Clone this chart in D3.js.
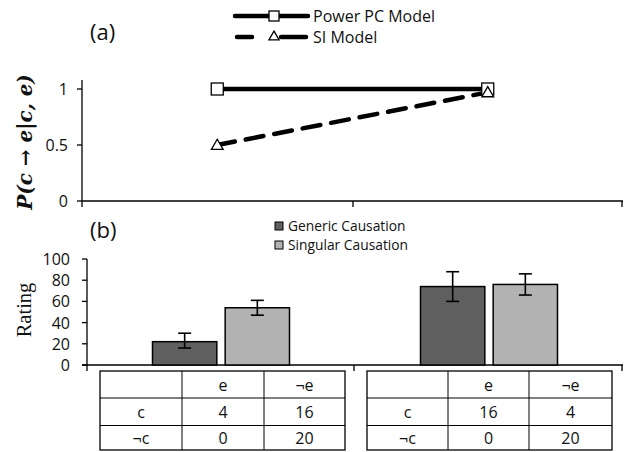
<!DOCTYPE html>
<html lang="en">
<head>
<meta charset="utf-8">
<title>Power PC vs SI model</title>
<script src="https://d3js.org/d3.v7.min.js"></script>
<style>
    body { margin: 0; background: white; }
    text { font-family: "Open Sans", sans-serif; fill: #111; }
</style>
</head>
<body>
<svg id="chart" width="624" height="452"></svg>
<script>
    // panel (a) data
    var conditions = ["A", "B"];
    var powerPC = [1, 1];
    var siModel = [0.5, 0.97];
    var probTicks = [0, 0.5, 1];

    // panel (b) data
    var generic = [22, 74];
    var genericErr = [[16, 30], [60, 88]];
    var singular = [54, 76];
    var singularErr = [[47, 61], [66, 86]];
    var ratingTicks = [0, 20, 40, 60, 80, 100];

    // contingency tables under the bars
    var tableRows = [
        [["", "e", "¬e"], ["c", "4", "16"], ["¬c", "0", "20"]],
        [["", "e", "¬e"], ["c", "16", "4"], ["¬c", "0", "20"]]
    ];

    var svg = d3.select("#chart");

    // ---------- panel (a) ----------
    var xA = d3.scaleBand().domain(conditions).range([82, 623]);
    var yA = d3.scaleLinear().domain([0, 1]).range([201, 89]);

    svg.append("text").attr("x", 90).attr("y", 40)
        .style("font-size", "22px").text("(a)");

    var gA = svg.append("g");
    gA.append("line").attr("x1", 82).attr("x2", 82).attr("y1", 80).attr("y2", 207)
        .attr("stroke", "black").attr("stroke-width", 1.3);
    gA.append("line").attr("x1", 82).attr("x2", 623).attr("y1", yA(0)).attr("y2", yA(0))
        .attr("stroke", "black").attr("stroke-width", 1.3);
    gA.selectAll(".ytick").data(probTicks).enter().append("line")
        .attr("x1", 77).attr("x2", 82).attr("y1", d => yA(d)).attr("y2", d => yA(d))
        .attr("stroke", "black").attr("stroke-width", 1.3);
    gA.selectAll(".ylab").data(probTicks).enter().append("text")
        .attr("x", 68).attr("y", d => yA(d) + 6).attr("text-anchor", "end")
        .style("font-size", "16px").text(d => d);
    gA.selectAll(".xtick").data([353, 622]).enter().append("line")
        .attr("x1", d => d).attr("x2", d => d).attr("y1", 201).attr("y2", 207)
        .attr("stroke", "black").attr("stroke-width", 1.3);

    svg.append("text")
        .attr("transform", "translate(32,142) rotate(-90)")
        .attr("text-anchor", "middle")
        .style("font-family", "'DejaVu Serif', serif")
        .style("font-size", "20px").style("font-weight", "bold").style("font-style", "italic")
        .text("P(c → e|c, e)");

    var cx = d => xA(d) + xA.bandwidth() / 2;
    var line = d3.line().x((d, i) => cx(conditions[i])).y(d => yA(d));

    gA.append("path").datum(siModel).attr("d", line)
        .attr("fill", "none").attr("stroke", "black").attr("stroke-width", 4.5)
        .attr("stroke-dasharray", "18,11").attr("stroke-linecap", "round");
    gA.append("path").datum(powerPC).attr("d", line)
        .attr("fill", "none").attr("stroke", "black").attr("stroke-width", 4.5);

    gA.selectAll(".sq").data(powerPC).enter().append("rect")
        .attr("x", (d, i) => cx(conditions[i]) - 6).attr("y", d => yA(d) - 6)
        .attr("width", 12).attr("height", 12)
        .attr("fill", "white").attr("stroke", "black").attr("stroke-width", 1.3);
    var tri = d3.symbol().type(d3.symbolTriangle).size(60);
    gA.selectAll(".tri").data(siModel).enter().append("path")
        .attr("d", tri)
        .attr("transform", (d, i) => "translate(" + cx(conditions[i]) + "," + (yA(d) + 1) + ")")
        .attr("fill", "white").attr("stroke", "black").attr("stroke-width", 1.3);

    // legend (a)
    var legA = svg.append("g");
    legA.append("line").attr("x1", 235).attr("x2", 308).attr("y1", 16).attr("y2", 16)
        .attr("stroke", "black").attr("stroke-width", 4.5).attr("stroke-linecap", "round");
    legA.append("rect").attr("x", 269).attr("y", 11).attr("width", 10).attr("height", 10)
        .attr("fill", "white").attr("stroke", "black").attr("stroke-width", 1.3);
    legA.append("text").attr("x", 313).attr("y", 22).style("font-size", "16px").text("Power PC Model");
    [[237, 252], [281, 306]].forEach(function (seg) {
        legA.append("line").attr("x1", seg[0]).attr("x2", seg[1]).attr("y1", 37).attr("y2", 37)
            .attr("stroke", "black").attr("stroke-width", 4.5).attr("stroke-linecap", "round");
    });
    legA.append("path").attr("d", d3.symbol().type(d3.symbolTriangle).size(45))
        .attr("transform", "translate(274,37)")
        .attr("fill", "white").attr("stroke", "black").attr("stroke-width", 1.3);
    legA.append("text").attr("x", 313).attr("y", 43).style("font-size", "16px").text("SI Model");

    // ---------- panel (b) ----------
    var xB = d3.scaleBand().domain(conditions).range([87, 623]);
    var yB = d3.scaleLinear().domain([0, 100]).range([365, 259]);

    svg.append("text").attr("x", 90).attr("y", 238)
        .style("font-size", "22px").text("(b)");

    var gB = svg.append("g");
    gB.append("line").attr("x1", 87).attr("x2", 87).attr("y1", 259).attr("y2", 371)
        .attr("stroke", "black").attr("stroke-width", 1.3);
    gB.append("line").attr("x1", 82).attr("x2", 623).attr("y1", yB(0)).attr("y2", yB(0))
        .attr("stroke", "black").attr("stroke-width", 1.3);
    gB.selectAll(".ytick").data(ratingTicks).enter().append("line")
        .attr("x1", 82).attr("x2", 87).attr("y1", d => yB(d)).attr("y2", d => yB(d))
        .attr("stroke", "black").attr("stroke-width", 1.3);
    gB.selectAll(".ylab").data(ratingTicks).enter().append("text")
        .attr("x", 70).attr("y", d => yB(d) + 6).attr("text-anchor", "end")
        .style("font-size", "16px").text(d => d);
    gB.selectAll(".xtick").data([354, 622]).enter().append("line")
        .attr("x1", d => d).attr("x2", d => d).attr("y1", 365).attr("y2", 371)
        .attr("stroke", "black").attr("stroke-width", 1.3);

    svg.append("text")
        .attr("transform", "translate(31,310) rotate(-90)")
        .attr("text-anchor", "middle")
        .style("font-family", "'Liberation Serif', serif")
        .style("font-size", "20.5px")
        .text("Rating");

    var series = [
        {vals: generic, err: genericErr, fill: "#5f5f5f"},
        {vals: singular, err: singularErr, fill: "#b3b3b3"}
    ];
    var inner = d3.scaleBand().domain([0, 1]).range([0, 137]).paddingInner(0.115);
    var groupX = d => xB(d) + xB.bandwidth() / 2 - 68.5;

    series.forEach(function (s, si) {
        gB.selectAll(".bar" + si).data(s.vals).enter().append("rect")
            .attr("x", (d, i) => groupX(conditions[i]) + inner(si))
            .attr("y", d => yB(d))
            .attr("width", inner.bandwidth())
            .attr("height", d => yB(0) - yB(d))
            .attr("fill", s.fill).attr("stroke", "black").attr("stroke-width", 1.5);
        s.err.forEach(function (e, i) {
            var mx = groupX(conditions[i]) + inner(si) + inner.bandwidth() / 2;
            gB.append("line").attr("x1", mx).attr("x2", mx).attr("y1", yB(e[0])).attr("y2", yB(e[1]))
                .attr("stroke", "black").attr("stroke-width", 1.6);
            [e[0], e[1]].forEach(function (v) {
                gB.append("line").attr("x1", mx - 6.5).attr("x2", mx + 6.5)
                    .attr("y1", yB(v)).attr("y2", yB(v))
                    .attr("stroke", "black").attr("stroke-width", 1.6);
            });
        });
    });

    // legend (b)
    var legB = svg.append("g");
    [["Generic Causation", "#5f5f5f", 226], ["Singular Causation", "#b3b3b3", 245]].forEach(function (l) {
        legB.append("rect").attr("x", 275).attr("y", l[2] - 4).attr("width", 8).attr("height", 8)
            .attr("fill", l[1]).attr("stroke", "black").attr("stroke-width", 1);
        legB.append("text").attr("x", 288).attr("y", l[2] + 5).style("font-size", "13.8px").text(l[0]);
    });

    // tables
    var tableX = [[100, 182, 264, 345], [367, 448, 529, 612]];
    var tableY = [371, 398, 425.5, 450];
    tableRows.forEach(function (rows, t) {
        var cols = tableX[t];
        var tg = svg.append("g");
        tg.append("rect").attr("x", cols[0]).attr("y", tableY[0])
            .attr("width", cols[3] - cols[0]).attr("height", tableY[3] - tableY[0])
            .attr("fill", "white").attr("stroke", "black").attr("stroke-width", 1.3);
        [1, 2].forEach(function (c) {
            tg.append("line").attr("x1", cols[c]).attr("x2", cols[c]).attr("y1", tableY[0]).attr("y2", tableY[3])
                .attr("stroke", "black").attr("stroke-width", 1);
            tg.append("line").attr("x1", cols[0]).attr("x2", cols[3]).attr("y1", tableY[c]).attr("y2", tableY[c])
                .attr("stroke", "black").attr("stroke-width", 1);
        });
        rows.forEach(function (row, r) {
            row.forEach(function (cell, c) {
                tg.append("text")
                    .attr("x", (cols[c] + cols[c + 1]) / 2)
                    .attr("y", (tableY[r] + tableY[r + 1]) / 2 + 6)
                    .attr("text-anchor", "middle")
                    .style("font-size", "16px").text(cell);
            });
        });
    });
</script>
</body>
</html>
